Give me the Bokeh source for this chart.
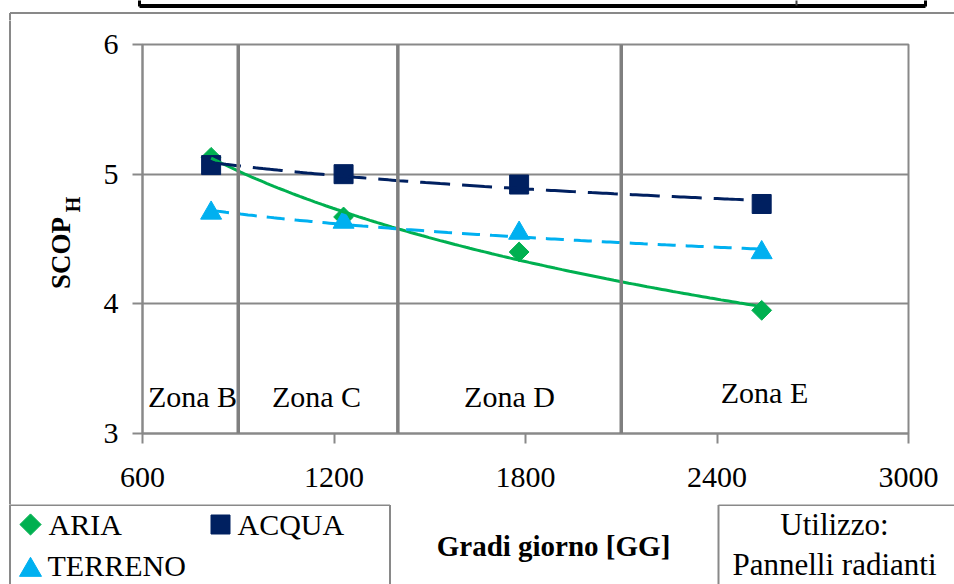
import numpy as np
from bokeh.plotting import figure
from bokeh.layouts import column, row
from bokeh.models import Range1d, FixedTicker, Span
from bokeh.core.properties import value
from bokeh.embed import file_html
from bokeh.resources import INLINE

# ---------------- data ----------------
gg = [815, 1230, 1780, 2540]              # Gradi giorno [GG]
aria = [5.13, 4.67, 4.40, 3.95]
acqua = [5.07, 5.00, 4.92, 4.77]
terreno = [4.70, 4.63, 4.545, 4.395]
series_names = ["ARIA", "ACQUA", "TERRENO"]
zone_bounds = [900, 1400, 2100]
zone_names = ["Zona B", "Zona C", "Zona D", "Zona E"]
x_ticks = [600, 1200, 1800, 2400, 3000]
y_ticks = [3, 4, 5, 6]
x_title = "Gradi giorno [GG]"
y_title, y_sub = "SCOP", "H"
note_lines = ["Utilizzo:", "Pannelli radianti"]

# ---------------- style / layout ----------------
GREEN = "#00B050"
NAVY = "#002060"
CYAN = "#00B0F0"
GRAY = "#898989"
ZGRAY = "#7F7F7F"
FONT = "Liberation Serif"
FS = "30px"

W, H = 954, 584
TOP_H = 20          # top strip height
LEFT_W = 90         # left strip width
SPLIT = 504         # page y where the bottom strip starts
FL, FR, FT, FB = 142, 908, 44, 433      # frame edges (page pixels)


def strip(x0, x1, y0, y1):
    """helper figure whose frame is the whole canvas, in page-pixel coordinates"""
    f = figure(width=x1 - x0, height=y1 - y0, x_range=Range1d(x0, x1),
               y_range=Range1d(y1, y0), output_backend="svg",
               toolbar_location=None, x_axis_type=None, y_axis_type=None,
               min_border=0)
    f.grid.visible = False
    f.outline_line_color = None
    f.background_fill_color = "white"
    f.border_fill_color = "white"
    return f


def txt(f, x, y, t, align="left", size=FS, style="normal", angle=0.0):
    f.text(x=[x], y=[y], text=[t], text_align=align, text_baseline="middle",
           text_font=value(FONT), text_font_size=value(size),
           text_font_style=style, text_color="black", angle=angle)


def seg(f, x0, y0, x1, y1, color=GRAY, width=2):
    f.segment(x0=[x0], y0=[y0], x1=[x1], y1=[y1], line_color=color, line_width=width)


# ---------------- main chart ----------------
p = figure(width=W - LEFT_W, height=SPLIT - TOP_H,
           x_range=Range1d(x_ticks[0], x_ticks[-1]), y_range=Range1d(y_ticks[0], y_ticks[-1]),
           output_backend="svg", toolbar_location=None,
           min_border_left=FL - LEFT_W, min_border_right=W - FR,
           min_border_top=FT - TOP_H, min_border_bottom=SPLIT - FB)
p.background_fill_color = "white"
p.border_fill_color = "white"
p.outline_line_color = GRAY
p.outline_line_width = 2
p.xgrid.visible = False
p.ygrid.grid_line_color = GRAY
p.ygrid.grid_line_width = 2
p.xaxis.ticker = FixedTicker(ticks=x_ticks)
p.yaxis.ticker = FixedTicker(ticks=y_ticks)
for ax in (p.xaxis[0], p.yaxis[0]):
    ax.axis_line_color = GRAY
    ax.axis_line_width = 2
    ax.major_tick_line_color = GRAY
    ax.major_tick_line_width = 2
    ax.major_tick_out = 10
    ax.major_tick_in = 0
    ax.minor_tick_out = 0
    ax.minor_tick_in = 0
    ax.major_label_text_font = FONT
    ax.major_label_text_font_size = FS
    ax.major_label_text_color = "black"
p.xaxis.major_label_standoff = 24
p.yaxis.major_label_standoff = 14

for b in zone_bounds:
    p.add_layout(Span(location=b, dimension="height", line_color=ZGRAY, line_width=3.5))

p.scatter(gg, aria, marker="square", angle=np.pi / 4, size=14, color=GREEN)
p.scatter(gg, acqua, marker="square", size=19, color=NAVY)
p.scatter(gg, terreno, marker="triangle", size=21, color=CYAN)

# logarithmic trend lines fitted to the data
xs = np.linspace(min(gg), max(gg), 150)
def logfit(y):
    b, a = np.polyfit(np.log(gg), y, 1)
    return a + b * np.log(xs)

p.line(xs, logfit(aria), line_color=GREEN, line_width=3)
p.line(xs, logfit(acqua), line_color=NAVY, line_width=3, line_dash="30 12")
p.line(xs, logfit(terreno), line_color=CYAN, line_width=3, line_dash="18 10")

# zone labels: pixel positions converted to data coordinates
def px(xp):
    return x_ticks[0] + (xp - FL) * (x_ticks[-1] - x_ticks[0]) / (FR - FL)

def py(yp):
    return y_ticks[0] + (FB - yp) * (y_ticks[-1] - y_ticks[0]) / (FB - FT)

zone_label_pos = [(192, 396), (316, 396), (509, 396), (764, 392)]
p.text(x=[px(a) for a, _ in zone_label_pos], y=[py(b) for _, b in zone_label_pos],
       text=zone_names, text_align="center", text_baseline="middle",
       text_font=value(FONT), text_font_size=value(FS), text_color="black")

# ---------------- top strip ----------------
top = strip(0, W, 0, TOP_H)
seg(top, 9.5, 12.5, W + 5, 12.5)
seg(top, 9.5, 12.5, 9.5, TOP_H + 2)
seg(top, 139, 5.5, 925, 5.5, color="black", width=4)
seg(top, 139, -2, 139, 6, color="black", width=3)
seg(top, 925, -2, 925, 6, color="black", width=3)
seg(top, 796, -2, 796, 5, color="#444444", width=2)

# ---------------- left strip (y title) ----------------
left = strip(0, LEFT_W, TOP_H, SPLIT)
seg(left, 9.5, TOP_H - 2, 9.5, SPLIT + 2)
txt(left, 60.5, 252.5, y_title, align="center", size="27px", style="bold", angle=np.pi / 2)
txt(left, 72.5, 204, y_sub, align="center", size="20px", style="bold", angle=np.pi / 2)

# ---------------- bottom strip (legend, x title, note) ----------------
bot = strip(0, W, SPLIT, H)
seg(bot, 9.5, SPLIT - 2, 9.5, H + 2)
seg(bot, 9.5, SPLIT + 0.5, 389.5, SPLIT + 0.5)
seg(bot, 389.5, SPLIT + 0.5, 389.5, H + 2)
seg(bot, 718, SPLIT + 0.5, W + 5, SPLIT + 0.5)
seg(bot, 718, SPLIT + 0.5, 718, H + 2)

bot.scatter([30], [524], marker="square", angle=np.pi / 4, size=15, color=GREEN)
bot.scatter([220], [524], marker="square", size=19, color=NAVY)
bot.scatter([30], [569.5], marker="triangle", size=22, color=CYAN)
txt(bot, 48, 524, series_names[0])
txt(bot, 237, 524, series_names[1])
txt(bot, 47, 565, series_names[2])

txt(bot, 553, 545.5, x_title, align="center", size="29px", style="bold")
txt(bot, 834, 523.5, note_lines[0], align="center", size="31px")
txt(bot, 834, 564, note_lines[1], align="center", size="31px")

layout = column(top, row(column(left), p), bot)
open("out.html", "w").write(file_html(layout, INLINE))
